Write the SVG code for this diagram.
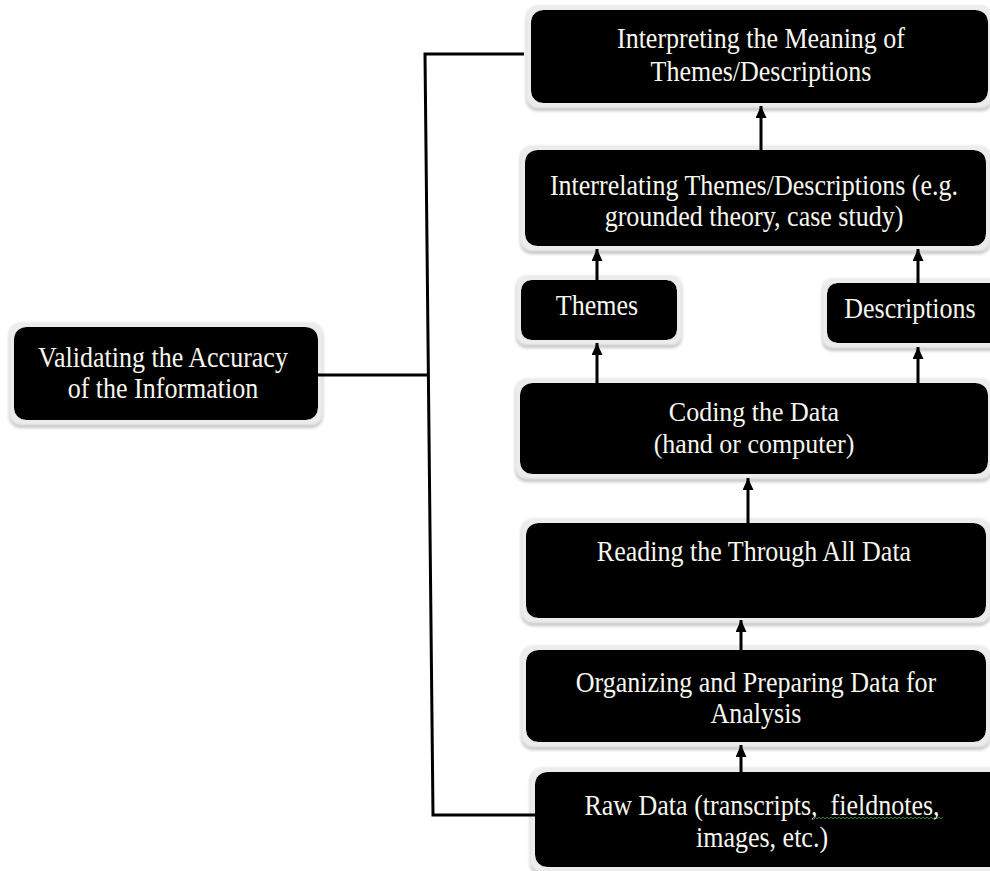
<svg xmlns="http://www.w3.org/2000/svg" width="990" height="871" viewBox="0 0 990 871">
  <defs>
    <style>
      .box { fill: #000; filter: url(#glow); }
      .lbl { font-family: "Liberation Serif", "Times New Roman", serif; font-size: 26px; fill: #f7f7ef; text-anchor: middle; }
      .ln { fill: none; stroke: #000; stroke-width: 3; }
      .arr { fill: none; stroke: #000; stroke-width: 3; marker-end: url(#ah); }
    </style>
    <filter id="glow" x="-10%" y="-25%" width="120%" height="160%">
      <feMorphology in="SourceAlpha" operator="dilate" radius="5" result="d"/>
      <feOffset in="d" dy="3" result="do"/>
      <feGaussianBlur in="do" stdDeviation="1.5" result="db"/>
      <feFlood flood-color="#c4c4c4" result="c1"/>
      <feComposite in="c1" in2="db" operator="in" result="shadow"/>
      <feGaussianBlur in="d" stdDeviation="0.8" result="rb"/>
      <feFlood flood-color="#ececec" result="c2"/>
      <feComposite in="c2" in2="rb" operator="in" result="ring"/>
      <feMerge>
        <feMergeNode in="shadow"/>
        <feMergeNode in="ring"/>
        <feMergeNode in="SourceGraphic"/>
      </feMerge>
    </filter>
    <marker id="ah" markerUnits="userSpaceOnUse" markerWidth="12" markerHeight="11" refX="12" refY="5.5" orient="auto">
      <path d="M0,0 L12,5.5 L0,11 z" fill="#000"/>
    </marker>
  </defs>

  <g id="n-interpreting">
    <rect class="box" x="531" y="10" width="457" height="93" rx="12"/>
    <g transform="translate(761,48) scale(1,1.1)"><text class="lbl" x="0" y="0">Interpreting the Meaning of</text></g>
    <g transform="translate(761,81) scale(1,1.1)"><text class="lbl" x="0" y="0">Themes/Descriptions</text></g>
  </g>

  <g id="n-interrelating">
    <rect class="box" x="525" y="150" width="461" height="96" rx="12"/>
    <g transform="translate(754,195) scale(1,1.1)"><text class="lbl" x="0" y="0">Interrelating Themes/Descriptions (e.g.</text></g>
    <g transform="translate(754,226) scale(1,1.1)"><text class="lbl" x="0" y="0">grounded theory, case study)</text></g>
  </g>

  <g id="n-themes">
    <rect class="box" x="521" y="280" width="156" height="60" rx="10"/>
    <g transform="translate(597,315) scale(1,1.12)"><text class="lbl" x="0" y="0">Themes</text></g>
  </g>

  <g id="n-descriptions">
    <rect class="box" x="827" y="283" width="175" height="60" rx="10"/>
    <g transform="translate(910,318) scale(1,1.12)"><text class="lbl" x="0" y="0">Descriptions</text></g>
  </g>

  <g id="n-coding">
    <rect class="box" x="520" y="383" width="468" height="91" rx="12"/>
    <g transform="translate(754,421) scale(1,1.08)"><text class="lbl" x="0" y="0">Coding the Data</text></g>
    <g transform="translate(754,453) scale(1,1.08)"><text class="lbl" x="0" y="0">(hand or computer)</text></g>
  </g>

  <g id="n-reading">
    <rect class="box" x="526" y="523" width="460" height="95" rx="12"/>
    <g transform="translate(754,561) scale(1,1.1)"><text class="lbl" x="0" y="0">Reading the Through All Data</text></g>
  </g>

  <g id="n-organizing">
    <rect class="box" x="526" y="650" width="460" height="92" rx="12"/>
    <g transform="translate(756,692) scale(1,1.1)"><text class="lbl" x="0" y="0">Organizing and Preparing Data for</text></g>
    <g transform="translate(756,723) scale(1,1.1)"><text class="lbl" x="0" y="0">Analysis</text></g>
  </g>

  <g id="n-raw">
    <rect class="box" x="535" y="772" width="470" height="95" rx="12"/>
    <g transform="translate(762,815) scale(1,1.1)"><text class="lbl" x="0" y="0" style="white-space:pre" xml:space="preserve">Raw Data (transcripts,  fieldnotes,</text></g>
    <path d="M813,819 l2,-2 l2,2 l2,-2 l2,2 l2,-2 l2,2 l2,-2 l2,2 l2,-2 l2,2 l2,-2 l2,2 l2,-2 l2,2 l2,-2 l2,2 l2,-2 l2,2 l2,-2 l2,2 l2,-2 l2,2 l2,-2 l2,2 l2,-2 l2,2 l2,-2 l2,2 l2,-2 l2,2 l2,-2 l2,2 l2,-2 l2,2 l2,-2 l2,2 l2,-2 l2,2 l2,-2 l2,2 l2,-2 l2,2 l2,-2 l2,2 l2,-2 l2,2 l2,-2 l2,2 l2,-2 l2,2 l2,-2 l2,2 l2,-2 l2,2 l2,-2 l2,2 l2,-2 l2,2 l2,-2 l2,2 l2,-2 l2,2 l2,-2 l2,2 l2,-2" fill="none" stroke="#2e7d32" stroke-width="1"/>
    <g transform="translate(762,847) scale(1,1.1)"><text class="lbl" x="0" y="0">images, etc.)</text></g>
  </g>

  <g id="n-validating">
    <rect class="box" x="14" y="327" width="304" height="93" rx="12"/>
    <g transform="translate(163,367) scale(1,1.1)"><text class="lbl" x="0" y="0">Validating the Accuracy</text></g>
    <g transform="translate(163,398) scale(1,1.1)"><text class="lbl" x="0" y="0">of the Information</text></g>
  </g>

  <g id="connectors">
    <path class="ln" d="M524,54 L425,54 L433,815 L535,815"/>
    <path class="ln" d="M318,375 L428.5,375"/>
    <path class="arr" d="M761,150 L761,106"/>
    <path class="arr" d="M597,280 L597,249"/>
    <path class="arr" d="M918,283 L918,249"/>
    <path class="arr" d="M597,383 L597,343"/>
    <path class="arr" d="M918,383 L918,347"/>
    <path class="arr" d="M748,523 L748,478"/>
    <path class="arr" d="M741,650 L741,620"/>
    <path class="arr" d="M741,772 L741,745"/>
  </g>
</svg>
